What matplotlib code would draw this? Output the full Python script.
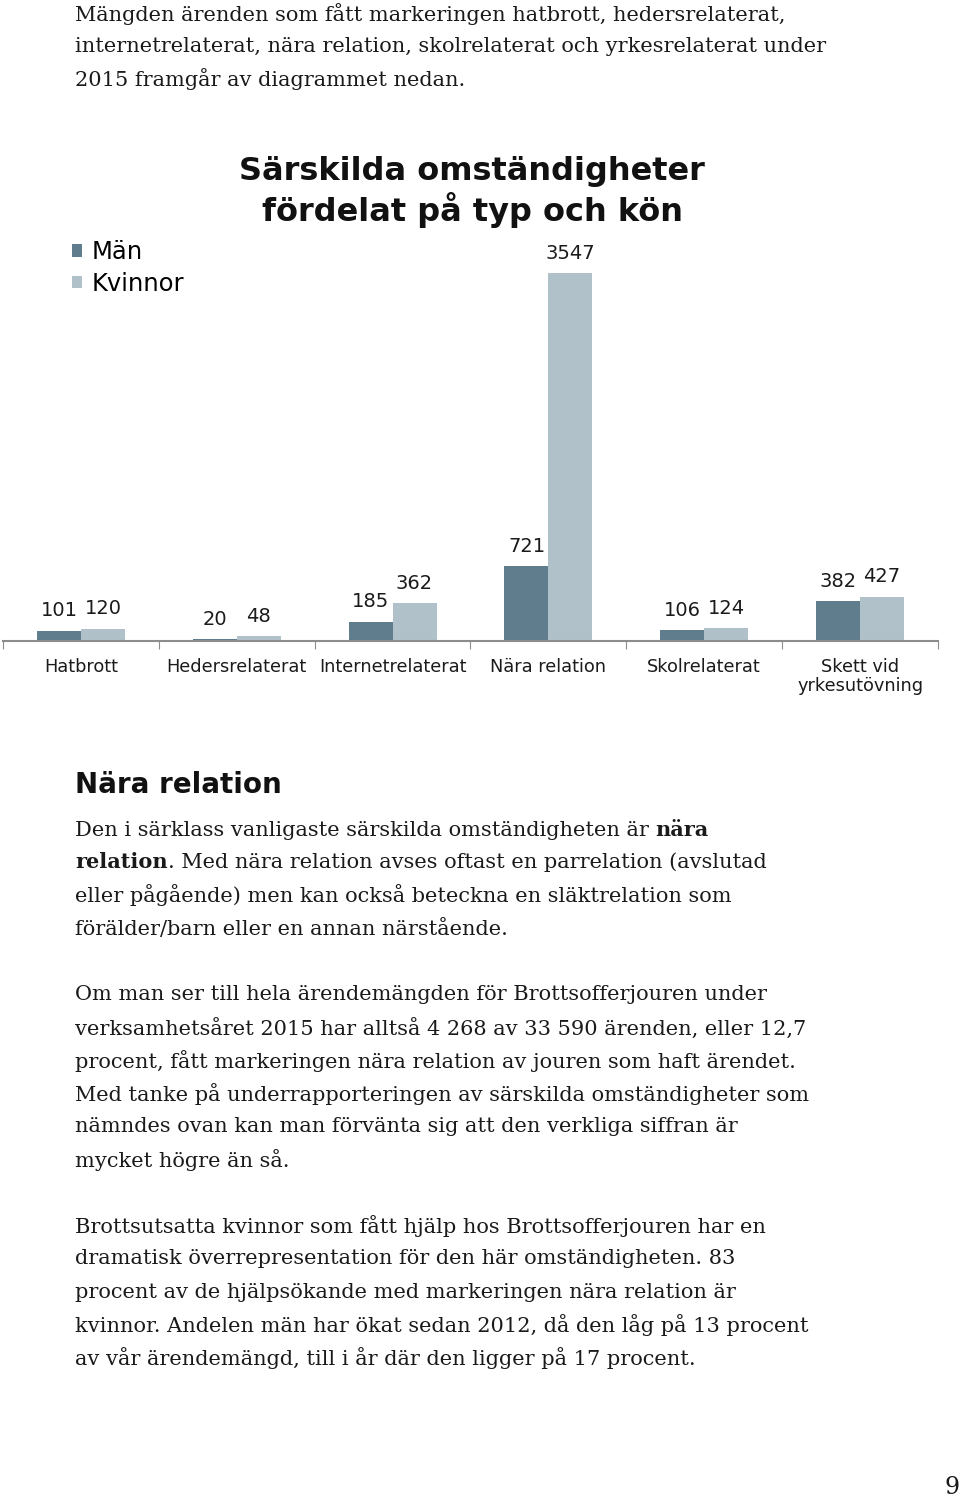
import matplotlib
matplotlib.use("Agg")
import matplotlib.pyplot as plt
import numpy as np

# ── Data ──────────────────────────────────────────────────────────────────────
categories = ["Hatbrott", "Hedersrelaterat", "Internetrelaterat",
              "Nära relation", "Skolrelaterat", "Skett vid\nyrkesutövning"]
men   = [101, 20, 185, 721, 106, 382]
women = [120, 48, 362, 3547, 124, 427]

MEN_C   = "#607d8e"
WOMEN_C = "#b1c1ca"
AXIS_C  = "#8c8c8c"

W, H = 960, 1498
fig = plt.figure(figsize=(W / 100, H / 100), dpi=100)
fig.patch.set_facecolor("white")

def fy(py):
    return 1 - py / H

def fx(px):
    return px / W

SERIF = "DejaVu Serif"
BODY_FS = 15.0
TXT_C = "#1a1a1a"

# ── Chart ─────────────────────────────────────────────────────────────────────
ax = fig.add_axes([fx(3), fy(641), fx(938) - fx(3), fy(273) - fy(641)])
x = np.arange(len(categories))
bw = 0.282
ax.bar(x - bw / 2, men, bw, color=MEN_C, label="Män")
ax.bar(x + bw / 2, women, bw, color=WOMEN_C, label="Kvinnor")
for xi, v in zip(x, men):
    ax.text(xi - bw / 2, v + 100, str(v), ha="center", va="bottom", fontsize=14, color="#1b1b1b")
for xi, v in zip(x, women):
    ax.text(xi + bw / 2, v + 100, str(v), ha="center", va="bottom", fontsize=14, color="#1b1b1b")
ax.set_xlim(-0.5, len(categories) - 0.5)
ax.set_ylim(0, max(women))
ax.set_xticks(np.arange(len(categories) + 1) - 0.5)
ax.set_xticklabels([])
ax.tick_params(axis="x", length=6, color=AXIS_C, direction="out")
ax.set_yticks([])
for xi, lab in zip(x, categories):
    ax.text(xi, -165, lab, ha="center", va="top", fontsize=12.8, color="#1b1b1b",
            linespacing=1.05)
for s in ["top", "right", "left"]:
    ax.spines[s].set_visible(False)
ax.spines["bottom"].set_color(AXIS_C)
ax.spines["bottom"].set_linewidth(1.5)
ax.patch.set_alpha(0)

fig.text(fx(472), fy(192), "Särskilda omständigheter\nfördelat på typ och kön",
         ha="center", va="center", fontsize=23, fontweight="bold", linespacing=1.15,
         color="#111111")

fig.legend(loc="upper left", bbox_to_anchor=(fx(72), fy(240)), frameon=False,
           fontsize=17.5, handlelength=0.42, handleheight=0.42, handletextpad=0.37,
           labelspacing=0.32, borderpad=0, borderaxespad=0)

# ── Body text ─────────────────────────────────────────────────────────────────
para1 = ["Mängden ärenden som fått markeringen hatbrott, hedersrelaterat,",
         "internetrelaterat, nära relation, skolrelaterat och yrkesrelaterat under",
         "2015 framgår av diagrammet nedan."]
para1_y = [14, 46, 79]

para3 = ["Om man ser till hela ärendemängden för Brottsofferjouren under",
         "verksamhetsåret 2015 har alltså 4 268 av 33 590 ärenden, eller 12,7",
         "procent, fått markeringen nära relation av jouren som haft ärendet.",
         "Med tanke på underrapporteringen av särskilda omständigheter som",
         "nämndes ovan kan man förvänta sig att den verkliga siffran är",
         "mycket högre än så."]
para3_y = [995, 1028, 1061, 1094, 1127, 1160]

para4 = ["Brottsutsatta kvinnor som fått hjälp hos Brottsofferjouren har en",
         "dramatisk överrepresentation för den här omständigheten. 83",
         "procent av de hjälpsökande med markeringen nära relation är",
         "kvinnor. Andelen män har ökat sedan 2012, då den låg på 13 procent",
         "av vår ärendemängd, till i år där den ligger på 17 procent."]
para4_y = [1226, 1259, 1292, 1325, 1358]

for lines, ys in [(para1, para1_y), (para3, para3_y), (para4, para4_y)]:
    for line, y in zip(lines, ys):
        fig.text(fx(75), fy(y), line, ha="left", va="center", fontsize=BODY_FS,
                 family=SERIF, color=TXT_C)

fig.text(fx(75), fy(785), "Nära relation", ha="left", va="center", fontsize=20,
         fontweight="bold", color="#111111")

renderer = fig.canvas.get_renderer()

def runs(y, parts):
    px = 75
    for s, bold in parts:
        t = fig.text(fx(px), fy(y), s, ha="left", va="center", fontsize=BODY_FS,
                     family=SERIF, color=TXT_C, fontweight="bold" if bold else "normal")
        px += t.get_window_extent(renderer).width

runs(830, [("Den i särklass vanligaste särskilda omständigheten är ", False), ("nära", True)])
runs(862, [("relation", True), (". Med nära relation avses oftast en parrelation (avslutad", False)])
runs(895, [("eller pågående) men kan också beteckna en släktrelation som", False)])
runs(929, [("förälder/barn eller en annan närstående.", False)])

fig.text(fx(952), fy(1488), "9", ha="center", va="center", fontsize=17, family=SERIF,
         color=TXT_C)

fig.savefig("out.png", dpi=100, facecolor="white")
